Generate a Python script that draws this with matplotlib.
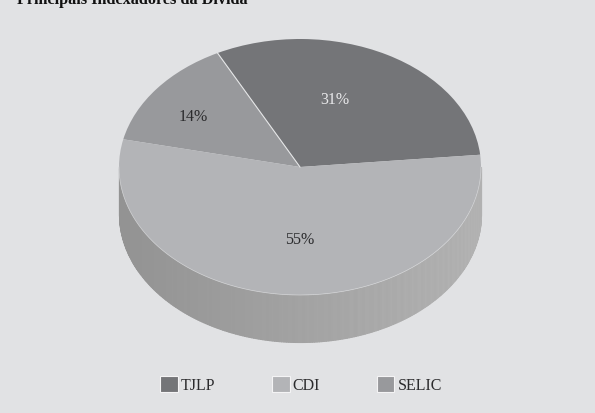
import matplotlib
matplotlib.use("Agg")
import matplotlib.pyplot as plt
from matplotlib.patches import Rectangle
import numpy as np

categories = ["TJLP", "CDI", "SELIC"]
shares = [31, 55, 14]
pct_labels = ["31%", "55%", "14%"]
title = "Principais Indexadores da Dívida"

W, H = 595, 413
CX, CY = 300, 167  # pie centre in pixels
RX, RY = 181, 128
DEPTH = 47 / RY
START = 5.5
BG = "#e1e2e4"
colors = ["#747578", "#b3b4b7", "#98999c"]

plt.rcParams["font.family"] = ["Liberation Serif", "DejaVu Serif"]

fig = plt.figure(figsize=(W / 100, H / 100), dpi=100, facecolor=BG)
ax = fig.add_axes([0, 0, 1, 1])

# counter-clockwise from the right: TJLP, SELIC, CDI
order = [0, 2, 1]
wedges, _ = ax.pie(
    [shares[i] for i in order],
    colors=[colors[i] for i in order],
    startangle=START,
    radius=1,
    wedgeprops=dict(linewidth=0, zorder=3),
)

ax.set_aspect("auto")
ax.set_xlim(-CX / RX, (W - CX) / RX)
ax.set_ylim((CY - H) / RY, CY / RY)

# thin light line between TJLP and SELIC
edge = np.radians(wedges[0].theta2)
ax.plot([0, np.cos(edge)], [0, np.sin(edge)], color="#e4e5e6", lw=0.8, zorder=4)

# side wall of the cylinder, front half only, drawn as thin vertical strips
theta = np.radians(np.linspace(180, 360, 241))
xs = np.cos(theta)
ys = np.sin(theta)
for i in range(len(xs) - 1):
    t = (xs[i] + 1) / 2
    # stripes get stronger toward the right, as in the scan
    shade = 0.575 + 0.125 * t + 0.006 * t * np.sin(i * 1.7)
    ax.fill_between(
        xs[i : i + 2],
        ys[i : i + 2],
        ys[i : i + 2] - DEPTH,
        facecolor=str(shade),
        edgecolor=str(shade),
        linewidth=0.8,
        zorder=1,
    )
# pale rim where the top meets the wall
ax.plot(xs, ys, color="#d2d3d5", lw=0.5, zorder=4)

# percent labels, placed relative to the radius
label_xy = {"31%": (0.193, 0.523), "14%": (-0.59, 0.39), "55%": (0.0, -0.57)}
for lab in pct_labels:
    ax.text(
        *label_xy[lab],
        lab,
        ha="center",
        va="center",
        fontsize=11.5,
        color="#e8e8ea" if lab == "31%" else "#2b2b2d",
        zorder=5,
    )

# legend
handles = [Rectangle((0, 0), 1, 1, facecolor=c, edgecolor="#f4f4f5", linewidth=0.8) for c in colors]
ax.legend(
    handles,
    categories,
    loc="center",
    bbox_to_anchor=(301 / W, 1 - 385 / H),
    ncol=3,
    frameon=False,
    fontsize=11.5,
    handlelength=1.1,
    handleheight=1.1,
    handletextpad=0.2,
    columnspacing=3.55,
    labelcolor="#2b2b2d",
)

fig.text(17 / W, 1 - 0 / H, title, fontsize=11.7, fontweight="bold", color="#111111", ha="left", va="center")

fig.savefig("out.png", dpi=100, facecolor=BG)
